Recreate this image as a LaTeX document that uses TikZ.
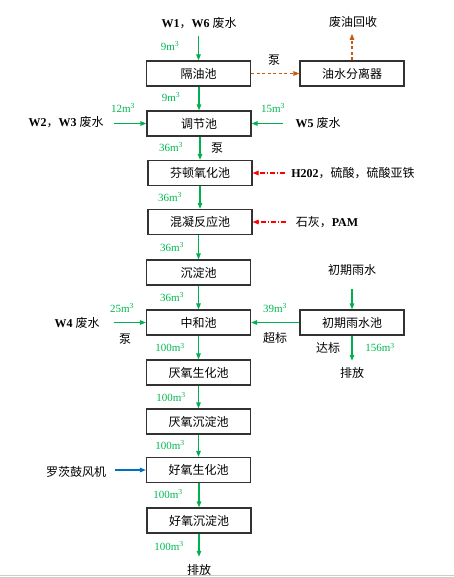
\documentclass[tikz,border=0pt]{standalone}
\usepackage{fontspec}
\setmainfont{Liberation Serif}
\newfontfamily\cjk{Noto Sans CJK SC}
\usetikzlibrary{arrows.meta}
\newcommand{\zh}[1]{{\cjk #1}}
\newcommand{\mcube}[1]{#1m\textsuperscript{3}}
\definecolor{gline}{RGB}{0,176,80}
\definecolor{gtext}{RGB}{0,184,80}
\definecolor{bline}{RGB}{197,90,17}
\definecolor{rline}{RGB}{255,0,0}
\definecolor{uline}{RGB}{0,112,192}
\definecolor{boxline}{RGB}{50,50,50}
\definecolor{pagegrey}{RGB}{208,204,196}
\tikzset{
  pool/.style={draw=boxline,line width=1.2pt,minimum width=104pt,minimum height=25pt,inner sep=0pt,font=\fontsize{12}{14}\selectfont\cjk},
  lbl/.style={inner sep=0pt,font=\fontsize{12}{14}\selectfont},
  qty/.style={inner sep=0pt,text=gtext,font=\fontsize{11}{13}\selectfont},
  garrow/.style={draw=gline,line width=1.2pt,-{Triangle[length=6pt,width=4.5pt]},color=gline},
  barrow/.style={draw=bline,line width=1.2pt,dash pattern=on 3pt off 2.5pt,-{Triangle[length=6pt,width=4.5pt]},color=bline},
  rarrow/.style={draw=rline,line width=1.1pt,dash pattern=on 5pt off 2pt on 1pt off 2pt,-{Triangle[length=6pt,width=4.5pt]},color=rline},
  uarrow/.style={draw=uline,line width=1.2pt,-{Triangle[length=6pt,width=4.5pt]},color=uline}
}
\begin{document}
\begin{tikzpicture}[x=1pt,y=-1pt]
\useasboundingbox (0,0) rectangle (454,578);
\draw[pagegrey,line width=0.8pt] (0,575) -- (454,575);
\draw[pagegrey,line width=0.8pt] (0,577.5) -- (454,577.5);

% main column
\node[pool] (b1) at (198.5,73.5) {隔油池};
\node[pool] (b2) at (199,123.5) {调节池};
\node[pool] (b3) at (200,173) {芬顿氧化池};
\node[pool] (b4) at (200,222) {混凝反应池};
\node[pool] (b5) at (198.5,272.5) {沉淀池};
\node[pool] (b6) at (198.5,322.5) {中和池};
\node[pool] (b7) at (198.5,372.5) {厌氧生化池};
\node[pool] (b8) at (198.5,421.5) {厌氧沉淀池};
\node[pool] (b9) at (198.5,470) {好氧生化池};
\node[pool] (b10) at (199,520.5) {好氧沉淀池};

% right column
\node[pool] (oil) at (352,73.5) {油水分离器};
\node[pool] (rain) at (352,322.5) {初期雨水池};

% text nodes
\node[lbl] (w16) at (199,23) {{\bfseries W1}\zh{，}{\bfseries W6} \zh{废水}};
\node[lbl] (fy) at (353,22) {\zh{废油回收}};
\node[lbl] (pump1) at (274,60) {\zh{泵}};
\node[lbl] (w23) at (66,122.5) {{\bfseries W2}\zh{，}{\bfseries W3} \zh{废水}};
\node[lbl] (w5) at (318,122.5) {{\bfseries W5} \zh{废水}};
\node[lbl] (pump2) at (217,148) {\zh{泵}};
\node[lbl] (h2o2) at (353,173) {{\bfseries H202}\zh{，硫酸，硫酸亚铁}};
\node[lbl] (lime) at (327,222) {\zh{石灰，}{\bfseries PAM}};
\node[lbl] (cqys) at (352,269.5) {\zh{初期雨水}};
\node[lbl] (w4) at (77,323) {{\bfseries W4} \zh{废水}};
\node[lbl] (pump3) at (125,339.5) {\zh{泵}};
\node[lbl] (cb) at (275,337.5) {\zh{超标}};
\node[lbl] (db) at (328,347.5) {\zh{达标}};
\node[lbl] (pf1) at (352,372.5) {\zh{排放}};
\node[lbl] (fan) at (76,471.5) {\zh{罗茨鼓风机}};
\node[lbl] (pf2) at (199,569.5) {\zh{排放}};

% quantity labels
\node[qty] at (170,46) {\mcube{9}};
\node[qty] at (171,97) {\mcube{9}};
\node[qty] at (123,108) {\mcube{12}};
\node[qty] at (273,108) {\mcube{15}};
\node[qty] at (171,147) {\mcube{36}};
\node[qty] at (170,197) {\mcube{36}};
\node[qty] at (172,247) {\mcube{36}};
\node[qty] at (172,297) {\mcube{36}};
\node[qty] at (122,308) {\mcube{25}};
\node[qty] at (275,308) {\mcube{39}};
\node[qty] at (380,347.5) {\mcube{156}};
\node[qty] at (170,347.5) {\mcube{100}};
\node[qty] at (171,397) {\mcube{100}};
\node[qty] at (170,445) {\mcube{100}};
\node[qty] at (168,494) {\mcube{100}};
\node[qty] at (169,546) {\mcube{100}};

% connectors
\draw[garrow,shorten <=7pt] (w16.south -| b1) -- (b1.north);
\draw[barrow] (b1.east) -- (oil.west);
\draw[barrow,shorten >=6pt] (oil.north) -- (fy.south -| oil);
\draw[garrow] (b1.south -| b2) -- (b2.north);
\draw[garrow,shorten <=10pt] (w23.east |- b2) -- (b2.west);
\draw[garrow,shorten <=12pt] (w5.west |- b2) -- (b2.east);
\draw[garrow] (b2.south -| b3) -- (b3.north);
\draw[rarrow,shorten <=6pt] (h2o2.west |- b3) -- (b3.east);
\draw[garrow] (b3.south) -- (b4.north);
\draw[rarrow,shorten <=10pt] (lime.west |- b4) -- (b4.east);
\draw[garrow] (b4.south -| b5) -- (b5.north);
\draw[garrow] (b5.south) -- (b6.north);
\draw[garrow,shorten <=14pt] (cqys.south -| rain) -- (rain.north);
\draw[garrow,shorten <=14pt] (w4.east |- b6) -- (b6.west);
\draw[garrow] (rain.west) -- (b6.east);
\draw[garrow,shorten >=6pt] (rain.south) -- (pf1.north -| rain);
\draw[garrow] (b6.south) -- (b7.north);
\draw[garrow] (b7.south) -- (b8.north);
\draw[garrow] (b8.south) -- (b9.north);
\draw[uarrow,shorten <=9pt] (fan.east |- b9) -- (b9.west);
\draw[garrow] (b9.south -| b10) -- (b10.north);
\draw[garrow,shorten >=7pt] (b10.south) -- (pf2.north -| b10);
\end{tikzpicture}
\end{document}
